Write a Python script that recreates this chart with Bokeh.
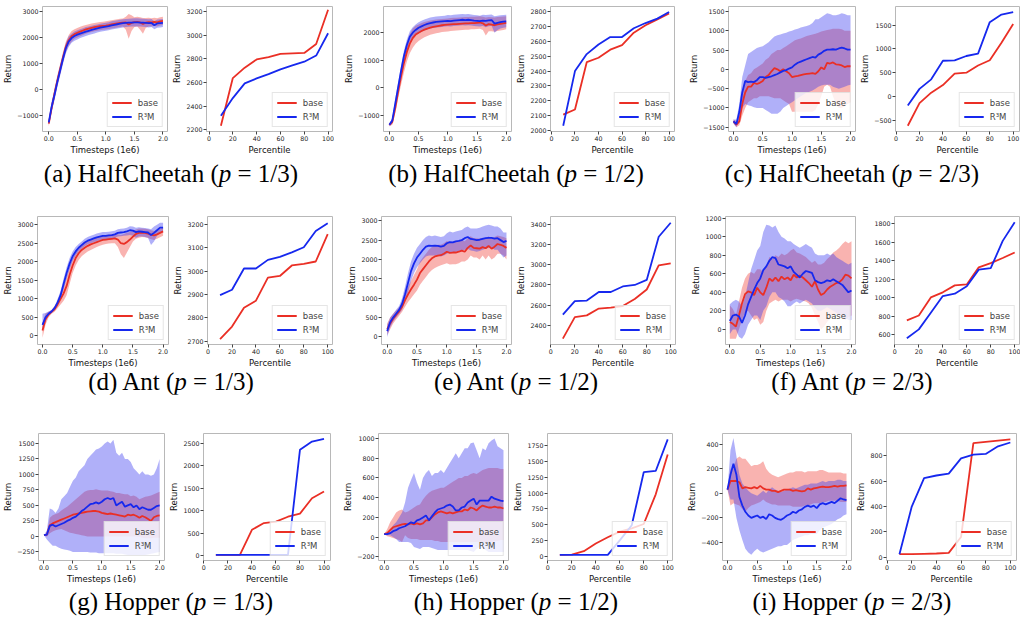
from bokeh.plotting import figure
from bokeh.layouts import row, column
from bokeh.models import Range1d, FixedTicker, CustomJSTickFormatter, Div, Legend
from bokeh.embed import file_html
from bokeh.resources import INLINE

# ---------------- data ----------------
TS = [0.0, 0.05, 0.1, 0.15, 0.2, 0.25, 0.3, 0.35, 0.4, 0.45, 0.5, 0.55, 0.6, 0.65, 0.7, 0.75, 0.8, 0.85, 0.9, 0.95,
      1.0, 1.05, 1.1, 1.15, 1.2, 1.25, 1.3, 1.35, 1.4, 1.45, 1.5, 1.55, 1.6, 1.65, 1.7, 1.75, 1.8, 1.85, 1.9, 1.95, 2.0]
PCT = [10, 20, 30, 40, 50, 60, 70, 80, 90, 100]

# (a) HalfCheetah p=1/3
A_BASE = [-1300, -700, -150, 350, 800, 1250, 1650, 1900, 2050, 2130, 2180, 2230, 2270, 2310, 2340, 2370, 2400, 2420, 2440, 2450, 2460, 2480, 2500, 2520, 2540, 2560, 2570, 2580, 2500, 2560, 2590, 2600, 2580, 2520, 2570, 2590, 2580, 2600, 2580, 2620, 2640]
A_BASE_LO = [-1400, -850, -350, 150, 600, 1050, 1450, 1700, 1850, 1950, 2000, 2050, 2100, 2150, 2180, 2210, 2240, 2260, 2280, 2300, 2310, 2330, 2350, 2370, 2390, 2400, 2420, 2300, 1950, 2250, 2400, 2420, 2300, 2150, 2380, 2420, 2420, 2440, 2420, 2460, 2480]
A_BASE_HI = [-1200, -550, 50, 550, 1000, 1450, 1850, 2100, 2250, 2320, 2370, 2410, 2450, 2480, 2510, 2540, 2560, 2580, 2600, 2610, 2620, 2640, 2660, 2680, 2700, 2720, 2730, 2800, 2900, 2850, 2780, 2800, 2780, 2750, 2750, 2760, 2740, 2760, 2740, 2780, 2800]
A_R3M = [-1250, -650, -200, 300, 750, 1200, 1600, 1850, 1980, 2060, 2110, 2150, 2190, 2230, 2260, 2290, 2320, 2350, 2380, 2400, 2420, 2440, 2470, 2490, 2510, 2530, 2550, 2560, 2570, 2575, 2580, 2580, 2575, 2570, 2560, 2550, 2560, 2470, 2540, 2550, 2560]
A_R3M_LO = [-1350, -850, -400, 100, 550, 1000, 1400, 1650, 1800, 1880, 1930, 1980, 2020, 2060, 2100, 2130, 2160, 2190, 2220, 2240, 2260, 2280, 2310, 2330, 2350, 2370, 2390, 2400, 2410, 2420, 2420, 2420, 2420, 2410, 2400, 2390, 2400, 2320, 2380, 2390, 2400]
A_R3M_HI = [-1150, -450, 0, 500, 950, 1400, 1800, 2050, 2150, 2230, 2280, 2320, 2360, 2400, 2420, 2450, 2480, 2500, 2530, 2550, 2570, 2590, 2620, 2640, 2660, 2680, 2700, 2710, 2720, 2730, 2740, 2740, 2730, 2720, 2710, 2700, 2710, 2620, 2690, 2700, 2710]
A_PCT_BASE = [2235, 2637, 2725, 2794, 2813, 2841, 2845, 2849, 2924, 3214]
A_PCT_R3M = [2319, 2468, 2592, 2634, 2670, 2711, 2744, 2775, 2827, 3015]

# (b) HalfCheetah p=1/2
B_BASE = [-1350, -1250, -750, -150, 400, 900, 1300, 1600, 1800, 1930, 2000, 2060, 2110, 2150, 2180, 2210, 2230, 2250, 2270, 2280, 2290, 2300, 2310, 2310, 2320, 2330, 2340, 2340, 2350, 2350, 2360, 2370, 2340, 2260, 2310, 2290, 2270, 2300, 2320, 2340, 2360]
B_BASE_LO = [-1400, -1350, -950, -400, 100, 550, 950, 1250, 1450, 1600, 1700, 1770, 1830, 1880, 1920, 1950, 1980, 2000, 2020, 2030, 2040, 2060, 2070, 2080, 2090, 2100, 2110, 2110, 2120, 2120, 2130, 2140, 2100, 1900, 2050, 2050, 2030, 2060, 2080, 2100, 2120]
B_BASE_HI = [-1300, -1150, -550, 100, 700, 1250, 1650, 1950, 2150, 2250, 2300, 2350, 2390, 2420, 2440, 2460, 2480, 2490, 2500, 2510, 2520, 2530, 2540, 2540, 2550, 2560, 2570, 2570, 2580, 2580, 2590, 2600, 2580, 2550, 2570, 2560, 2550, 2570, 2580, 2590, 2600]
B_R3M = [-1350, -1200, -600, 0, 600, 1150, 1550, 1850, 2000, 2100, 2180, 2230, 2280, 2320, 2350, 2370, 2390, 2400, 2410, 2420, 2430, 2420, 2440, 2450, 2460, 2470, 2460, 2470, 2460, 2440, 2430, 2420, 2440, 2430, 2450, 2460, 2330, 2360, 2380, 2400, 2410]
B_R3M_LO = [-1400, -1300, -800, -200, 400, 950, 1350, 1650, 1800, 1900, 1980, 2030, 2080, 2120, 2150, 2170, 2190, 2200, 2210, 2220, 2230, 2220, 2240, 2250, 2260, 2270, 2260, 2270, 2260, 2240, 2230, 2220, 2240, 2200, 2230, 2250, 2000, 2100, 2150, 2180, 2200]
B_R3M_HI = [-1300, -1100, -400, 200, 800, 1350, 1750, 2050, 2200, 2300, 2380, 2430, 2480, 2520, 2550, 2570, 2590, 2600, 2610, 2620, 2640, 2630, 2650, 2660, 2670, 2680, 2670, 2680, 2660, 2640, 2630, 2620, 2650, 2640, 2650, 2660, 2600, 2620, 2630, 2640, 2650]
B_PCT_BASE = [2105, 2140, 2460, 2490, 2545, 2575, 2660, 2710, 2750, 2790]
B_PCT_R3M = [2030, 2400, 2515, 2580, 2630, 2630, 2690, 2725, 2755, 2800]

# (c) HalfCheetah p=2/3
C_BASE = [-1350, -1430, -1350, -900, -600, -450, -450, -350, -380, -350, -300, -200, -150, -50, 30, 0, -50, 0, -50, -100, -200, -180, -170, -150, -130, -120, -110, -100, -120, -50, 50, 0, 170, 150, 180, 130, 120, 100, 60, 80, 80]
C_BASE_LO = [-1400, -1500, -1450, -1200, -1000, -850, -800, -750, -750, -700, -700, -700, -700, -720, -750, -750, -750, -800, -850, -900, -1100, -1100, -1100, -1100, -1100, -1100, -1100, -1100, -1050, -900, -700, -450, -400, -450, -700, -900, -1000, -1000, -950, -900, -850]
C_BASE_HI = [-1300, -1350, -1200, -650, -300, -150, -100, 0, 50, 100, 150, 250, 300, 400, 450, 500, 500, 550, 600, 650, 700, 750, 780, 800, 830, 860, 880, 900, 920, 950, 980, 1000, 1020, 1030, 1050, 1050, 1050, 1040, 1000, 1000, 1000]
C_R3M = [-1350, -1420, -1100, -600, -300, -330, -320, -330, -280, -200, -200, -220, -200, -180, -150, -120, -80, -40, -20, 20, 50, 120, 170, 200, 230, 260, 290, 320, 300, 380, 420, 480, 510, 510, 520, 510, 540, 560, 540, 510, 510]
C_R3M_LO = [-1400, -1500, -1300, -1000, -900, -930, -950, -980, -1000, -1000, -1000, -1050, -1100, -1150, -1150, -1150, -1100, -1000, -950, -900, -850, -800, -750, -700, -650, -600, -580, -550, -500, -450, -420, -400, -400, -400, -450, -480, -500, -480, -450, -420, -400]
C_R3M_HI = [-1300, -1300, -900, -200, 100, 400, 450, 500, 550, 580, 600, 650, 700, 780, 850, 880, 900, 930, 950, 980, 1000, 1030, 1050, 1080, 1100, 1120, 1150, 1200, 1300, 1300, 1350, 1400, 1450, 1430, 1400, 1400, 1420, 1450, 1430, 1400, 1400]
C_PCT_BASE = [-615, -140, 80, 240, 480, 500, 650, 760, 1130, 1520]
C_PCT_R3M = [-190, 160, 360, 750, 760, 850, 900, 1560, 1720, 1770]

# (d) Ant p=1/3
D_BASE = [150, 450, 580, 650, 720, 850, 1000, 1150, 1350, 1650, 1900, 2100, 2230, 2320, 2380, 2430, 2470, 2500, 2530, 2560, 2590, 2600, 2610, 2620, 2630, 2600, 2500, 2480, 2530, 2600, 2680, 2750, 2780, 2790, 2780, 2760, 2730, 2710, 2740, 2780, 2820]
D_BASE_LO = [-50, 300, 500, 600, 650, 750, 850, 950, 1100, 1400, 1700, 1900, 2050, 2150, 2220, 2280, 2320, 2360, 2400, 2430, 2460, 2480, 2490, 2500, 2500, 2400, 2200, 2100, 2250, 2400, 2550, 2620, 2650, 2670, 2660, 2640, 2610, 2590, 2620, 2660, 2700]
D_BASE_HI = [350, 600, 650, 700, 800, 950, 1150, 1350, 1600, 1900, 2100, 2280, 2400, 2480, 2530, 2570, 2610, 2640, 2660, 2690, 2710, 2720, 2730, 2740, 2750, 2740, 2720, 2750, 2780, 2800, 2830, 2870, 2900, 2900, 2890, 2880, 2850, 2830, 2860, 2890, 2920]
D_R3M = [300, 500, 600, 660, 750, 900, 1100, 1400, 1700, 1950, 2150, 2280, 2380, 2450, 2520, 2570, 2600, 2630, 2660, 2680, 2700, 2700, 2710, 2720, 2740, 2780, 2790, 2800, 2820, 2850, 2840, 2800, 2820, 2810, 2800, 2790, 2720, 2780, 2850, 2920, 2920]
D_R3M_LO = [150, 400, 550, 620, 700, 820, 1000, 1250, 1550, 1800, 2020, 2170, 2280, 2350, 2420, 2470, 2500, 2530, 2560, 2580, 2600, 2600, 2610, 2620, 2640, 2680, 2690, 2700, 2710, 2720, 2700, 2650, 2680, 2680, 2670, 2650, 2450, 2550, 2700, 2780, 2800]
D_R3M_HI = [600, 620, 660, 700, 800, 1000, 1220, 1550, 1850, 2100, 2280, 2400, 2480, 2550, 2620, 2670, 2700, 2730, 2760, 2780, 2800, 2800, 2810, 2820, 2840, 2880, 2890, 2900, 2920, 2960, 2950, 2920, 2930, 2920, 2910, 2900, 2880, 2950, 3000, 3050, 3050]
D_PCT_BASE = [2708, 2762, 2843, 2873, 2972, 2979, 3024, 3031, 3041, 3158]
D_PCT_R3M = [2897, 2920, 3011, 3011, 3048, 3061, 3080, 3102, 3172, 3205]

# (e) Ant p=1/2
E_BASE = [200, 350, 470, 570, 660, 780, 950, 1100, 1230, 1350, 1480, 1650, 1750, 1850, 1950, 2030, 2080, 2100, 2110, 2150, 2200, 2170, 2180, 2180, 2200, 2230, 2200, 2300, 2360, 2300, 2290, 2280, 2320, 2290, 2350, 2280, 2330, 2400, 2380, 2350, 2300]
E_BASE_LO = [50, 200, 350, 450, 550, 650, 780, 900, 1000, 1100, 1200, 1350, 1450, 1550, 1650, 1730, 1780, 1820, 1850, 1880, 1900, 1870, 1880, 1880, 1900, 1950, 1950, 2000, 2100, 2050, 2050, 2000, 2100, 2000, 2100, 2000, 2050, 2150, 2150, 2100, 2000]
E_BASE_HI = [350, 500, 600, 680, 760, 900, 1100, 1300, 1450, 1600, 1750, 1950, 2050, 2150, 2250, 2320, 2370, 2380, 2380, 2420, 2480, 2450, 2450, 2460, 2480, 2500, 2470, 2550, 2600, 2550, 2550, 2540, 2560, 2550, 2600, 2550, 2580, 2620, 2600, 2580, 2550]
E_R3M = [150, 380, 500, 600, 700, 850, 1100, 1400, 1700, 1900, 2050, 2150, 2250, 2330, 2360, 2350, 2360, 2350, 2330, 2350, 2420, 2450, 2440, 2470, 2480, 2500, 2550, 2580, 2530, 2520, 2500, 2510, 2530, 2550, 2560, 2560, 2540, 2550, 2500, 2450, 2480]
E_R3M_LO = [0, 250, 400, 500, 600, 700, 900, 1150, 1450, 1650, 1800, 1900, 2000, 2080, 2100, 2100, 2100, 2100, 2080, 2100, 2150, 2180, 2170, 2200, 2200, 2220, 2250, 2280, 2230, 2220, 2200, 2220, 2250, 2280, 2300, 2300, 2250, 2250, 2150, 2050, 2100]
E_R3M_HI = [300, 500, 600, 700, 800, 1000, 1300, 1650, 1950, 2150, 2300, 2400, 2500, 2580, 2620, 2600, 2620, 2600, 2580, 2600, 2680, 2720, 2700, 2720, 2740, 2760, 2820, 2850, 2800, 2800, 2800, 2820, 2850, 2880, 2900, 2880, 2850, 2850, 2800, 2700, 2700]
E_PCT_BASE = [2265, 2480, 2497, 2565, 2575, 2590, 2660, 2755, 2995, 3015]
E_PCT_R3M = [2505, 2640, 2645, 2730, 2730, 2785, 2800, 2850, 3280, 3420]

# (f) Ant p=2/3
F_BASE = [80, 60, 30, 150, 280, 380, 410, 400, 370, 450, 400, 370, 450, 550, 520, 560, 520, 570, 540, 560, 530, 590, 560, 580, 560, 530, 500, 460, 520, 430, 370, 390, 430, 460, 480, 500, 510, 540, 590, 580, 550]
F_BASE_LO = [-100, -100, -100, 0, 100, 180, 200, 150, 100, 120, 50, 80, 200, 280, 300, 320, 300, 320, 320, 320, 300, 320, 330, 320, 310, 300, 280, 230, 150, 80, 0, 30, 80, 120, 150, 170, 150, 130, 100, 130, 150]
F_BASE_HI = [260, 220, 150, 300, 450, 550, 600, 620, 600, 650, 650, 620, 680, 780, 760, 800, 780, 820, 800, 820, 850, 870, 830, 820, 800, 780, 750, 720, 740, 700, 700, 720, 760, 790, 830, 850, 880, 920, 950, 930, 950]
F_R3M = [90, 150, 160, 140, 70, 150, 270, 350, 430, 500, 550, 640, 680, 740, 780, 770, 700, 690, 680, 660, 680, 620, 590, 560, 600, 630, 620, 610, 530, 510, 500, 510, 530, 520, 540, 520, 500, 480, 440, 400, 420]
F_R3M_LO = [-50, 0, 0, -80, -100, -50, 50, 100, 150, 150, 100, 200, 250, 350, 400, 400, 350, 330, 300, 250, 250, 280, 300, 280, 300, 320, 300, 280, 230, 200, 200, 220, 240, 220, 200, 180, 150, 130, 120, 100, 100]
F_R3M_HI = [270, 300, 320, 300, 250, 350, 500, 650, 750, 850, 900, 1050, 1130, 1120, 1100, 1120, 1050, 1000, 980, 950, 950, 920, 900, 880, 900, 920, 900, 880, 820, 800, 800, 800, 820, 800, 820, 780, 760, 740, 720, 700, 720]
F_PCT_BASE = [757, 810, 1005, 1060, 1135, 1145, 1330, 1375, 1430, 1490]
F_PCT_R3M = [565, 660, 840, 1020, 1045, 1125, 1305, 1320, 1615, 1815]

# (g) Hopper p=1/3
G_BASE = [20, 30, 180, 210, 230, 250, 270, 290, 310, 330, 350, 360, 370, 380, 390, 400, 405, 410, 410, 400, 380, 370, 360, 370, 360, 350, 340, 330, 320, 350, 340, 350, 330, 300, 330, 310, 280, 250, 310, 330, 340]
G_BASE_LO = [20, 0, 50, 80, 100, 110, 120, 100, 80, 60, 50, 40, 30, 20, 10, 0, 0, 0, 0, 0, 0, 0, 0, 0, 0, 0, 0, 0, 0, 0, 0, 0, 0, -10, -20, -30, -30, -30, -20, -20, -20]
G_BASE_HI = [20, 60, 300, 340, 360, 380, 420, 450, 480, 520, 560, 600, 640, 680, 720, 740, 750, 750, 760, 750, 740, 740, 740, 730, 720, 700, 700, 690, 680, 680, 650, 660, 640, 600, 620, 640, 650, 660, 680, 700, 720]
G_R3M = [20, 30, 170, 190, 160, 180, 200, 220, 250, 270, 300, 320, 360, 410, 440, 480, 520, 530, 550, 530, 560, 600, 620, 600, 620, 500, 530, 560, 480, 500, 520, 470, 500, 440, 470, 450, 430, 430, 460, 490, 500]
G_R3M_LO = [20, -50, -100, -150, -150, -180, -200, -210, -220, -230, -250, -250, -250, -250, -250, -250, -260, -260, -260, -270, -270, -270, -270, -270, -270, -280, -280, -280, -290, -300, -300, -300, -300, -300, -300, -300, -290, -280, -270, -260, -250]
G_R3M_HI = [20, 100, 450, 430, 380, 450, 600, 650, 700, 800, 900, 950, 1050, 1100, 1150, 1250, 1300, 1350, 1400, 1420, 1450, 1500, 1530, 1500, 1560, 1350, 1300, 1350, 1250, 1250, 1200, 1100, 1050, 1000, 1050, 1000, 1000, 980, 1000, 1100, 1250]
G_PCT_BASE = [20, 20, 20, 580, 730, 760, 870, 940, 1280, 1430]
G_PCT_R3M = [20, 20, 20, 20, 20, 20, 20, 2360, 2540, 2600]

# (h) Hopper p=1/2
H_BASE = [30, 40, 70, 100, 110, 120, 130, 135, 130, 140, 130, 140, 130, 140, 170, 170, 200, 230, 250, 260, 250, 240, 250, 240, 250, 260, 260, 280, 270, 300, 290, 270, 300, 320, 310, 300, 300, 310, 300, 300, 290]
H_BASE_LO = [30, 10, 0, -10, -20, -30, -50, 20, -10, -20, -20, -20, -30, -30, -30, -30, -30, -40, -40, -50, -50, -50, -50, -50, -50, -50, -50, -50, -50, -50, -50, -50, -50, -50, -50, -50, -50, -40, -40, -30, -30]
H_BASE_HI = [30, 80, 150, 200, 250, 270, 280, 250, 260, 280, 300, 320, 330, 380, 420, 450, 470, 480, 490, 500, 500, 520, 540, 560, 580, 600, 600, 620, 620, 640, 650, 640, 660, 680, 690, 700, 700, 700, 700, 690, 690]
H_R3M = [30, 30, 40, 60, 70, 90, 100, 110, 130, 150, 140, 170, 180, 200, 220, 170, 210, 250, 280, 290, 300, 320, 330, 310, 270, 270, 300, 310, 350, 370, 390, 330, 370, 370, 370, 370, 410, 390, 380, 370, 365]
H_R3M_LO = [30, 20, 20, 0, -20, -50, -50, -50, -50, -60, -100, -110, -120, -100, -100, -100, -110, -120, -130, -130, -130, -130, -130, -130, -130, -130, -130, -130, -130, -140, -150, -120, -100, -110, -130, -150, -150, -150, -150, -150, -150]
H_R3M_HI = [30, 40, 60, 120, 150, 200, 250, 350, 500, 580, 650, 550, 480, 600, 650, 680, 620, 650, 650, 680, 650, 700, 750, 800, 850, 800, 850, 900, 900, 950, 960, 880, 800, 900, 880, 950, 980, 1000, 920, 900, 880]
H_PCT_BASE = [20, 25, 80, 200, 300, 390, 440, 510, 980, 1610]
H_PCT_R3M = [20, 20, 20, 20, 20, 250, 490, 1330, 1350, 1850]

# (i) Hopper p=2/3
I_BASE = [30, 100, 100, 100, 90, 40, 50, 45, 40, 50, 40, 60, 40, 30, 30, 20, 20, 10, 20, 30, 30, 30, 20, 25, 20, 15, 20, 40, 30, 40, 45, 50, 55, 50, 50, 55, 60, 55, 60, 60, 65]
I_BASE_LO = [30, -100, -80, -90, -100, -130, -150, -120, -100, -90, -80, -70, -50, -70, -80, -90, -90, -100, -100, -100, -100, -100, -110, -110, -110, -110, -100, -100, -90, -80, -80, -80, -70, -70, -60, -60, -60, -60, -70, -70, -70]
I_BASE_HI = [30, 200, 210, 280, 300, 280, 280, 250, 220, 230, 230, 240, 260, 200, 170, 150, 140, 130, 140, 150, 160, 170, 170, 180, 180, 180, 170, 180, 180, 180, 180, 190, 190, 180, 170, 170, 170, 170, 170, 160, 160]
I_R3M = [30, 150, 240, 150, -30, -100, -150, -180, -200, -190, -180, -200, -190, -210, -170, -180, -200, -210, -215, -200, -180, -170, -150, -160, -140, -130, -110, -100, -110, -100, -120, -90, -80, -90, -80, -70, -80, -60, -40, -50, -55]
I_R3M_LO = [30, -50, -50, -200, -300, -380, -450, -480, -500, -470, -450, -470, -480, -470, -460, -450, -440, -430, -430, -420, -420, -400, -380, -370, -360, -350, -340, -340, -330, -330, -330, -300, -280, -270, -260, -250, -230, -210, -200, -180, -170]
I_R3M_HI = [30, 350, 450, 300, 150, 80, 50, 20, 0, -10, -20, 0, 20, 0, 30, 50, 30, 20, 10, 20, 30, 40, 50, 40, 50, 60, 70, 70, 80, 80, 80, 90, 100, 90, 100, 100, 100, 110, 110, 100, 100]
I_PCT_BASE = [25, 25, 28, 30, 35, 160, 900, 910, 920, 930]
I_PCT_R3M = [25, 400, 625, 645, 660, 780, 810, 815, 875, 905]

CAPTIONS = [
    ["(a) HalfCheetah (<i>p</i> = 1/3)", "(b) HalfCheetah (<i>p</i> = 1/2)", "(c) HalfCheetah (<i>p</i> = 2/3)"],
    ["(d) Ant (<i>p</i> = 1/3)", "(e) Ant (<i>p</i> = 1/2)", "(f) Ant (<i>p</i> = 2/3)"],
    ["(g) Hopper (<i>p</i> = 1/3)", "(h) Hopper (<i>p</i> = 1/2)", "(i) Hopper (<i>p</i> = 2/3)"],
]

# ---------------- styling ----------------
RED = "#ea2f25"
BLUE = "#1628ee"
RED_BAND = "#f0403a"
BLUE_BAND = "#3a3af0"
FONT = "DejaVu Sans"
T_FMT_Y = "return (tick < 0 ? '\u2212' : '') + Math.abs(tick).toString();"
T_FMT_X = "return tick.toFixed(1);"


def base_fig(xr, yr, yticks, xticks, xlabel, xfmt, geom):
    mbl, fw, mbt, fh, mbr, mbb = geom
    p = figure(width=mbl + fw + mbr, height=mbt + fh + mbb,
               min_border_left=mbl, min_border_right=mbr,
               min_border_top=mbt, min_border_bottom=mbb,
               x_range=Range1d(*xr), y_range=Range1d(*yr),
               toolbar_location=None, output_backend="svg")
    p.grid.visible = False
    p.outline_line_color = "#b8b8b8"
    p.outline_line_width = 1
    p.background_fill_color = "white"
    p.border_fill_color = "white"
    for ax in (p.xaxis[0], p.yaxis[0]):
        ax.axis_line_color = None
        ax.major_tick_in = 0
        ax.major_tick_out = 3
        ax.major_tick_line_color = "#444444"
        ax.minor_tick_line_color = None
        ax.major_label_text_font = FONT
        ax.major_label_text_font_size = "6.3px"
        ax.major_label_text_color = "#222222"
        ax.major_label_standoff = 1
        ax.axis_label_text_font = FONT
        ax.axis_label_text_font_size = "8.5px"
        ax.axis_label_text_font_style = "normal"
        ax.axis_label_text_color = "#111111"
        ax.axis_label_standoff = 1
    p.xaxis[0].ticker = FixedTicker(ticks=xticks)
    p.yaxis[0].ticker = FixedTicker(ticks=yticks)
    p.xaxis[0].formatter = CustomJSTickFormatter(code=xfmt)
    p.yaxis[0].formatter = CustomJSTickFormatter(code=T_FMT_Y)
    p.xaxis[0].axis_label = xlabel
    p.yaxis[0].axis_label = "Return"
    return p


def add_legend(p, r_base, r_r3m):
    leg = Legend(items=[("base", [r_base]), ("R\u00b3M", [r_r3m])], location="bottom_right")
    leg.label_text_font = FONT
    leg.label_text_font_size = "8.5px"
    leg.label_height = 11
    leg.glyph_height = 11
    leg.glyph_width = 20
    leg.label_standoff = 6
    leg.spacing = 3
    leg.padding = 4
    leg.margin = 4
    leg.border_line_color = "#cccccc"
    leg.background_fill_alpha = 0.8
    p.add_layout(leg, "center")


def curve_fig(base, base_lo, base_hi, r3m, r3m_lo, r3m_hi, xr, yr, yticks, geom):
    p = base_fig(xr, yr, yticks, [0, 0.5, 1.0, 1.5, 2.0], "Timesteps (1e6)", T_FMT_X, geom)
    p.varea(x=TS, y1=base_lo, y2=base_hi, fill_color=RED_BAND, fill_alpha=0.4)
    p.varea(x=TS, y1=r3m_lo, y2=r3m_hi, fill_color=BLUE_BAND, fill_alpha=0.4)
    rb = p.line(TS, base, line_color=RED, line_width=1.8)
    rr = p.line(TS, r3m, line_color=BLUE, line_width=1.8)
    add_legend(p, rb, rr)
    return p


def pct_fig(base, r3m, xr, yr, yticks, geom):
    p = base_fig(xr, yr, yticks, [0, 20, 40, 60, 80, 100], "Percentile",
                 "return tick.toFixed(0);", geom)
    rb = p.line(PCT, base, line_color=RED, line_width=1.8)
    rr = p.line(PCT, r3m, line_color=BLUE, line_width=1.8)
    add_legend(p, rb, rr)
    return p


# geometry: (min_border_left, frame_width, min_border_top, frame_height, min_border_right, min_border_bottom)
R1 = [(39, 128, 6, 127, 2, 24), (30, 133, 6, 127, 2, 24), (49, 128, 6, 127, 2, 24),
      (32, 129, 6, 127, 2, 24), (52, 127, 6, 127, 2, 24), (32, 130, 6, 127, 1, 24)]
R2 = [(37, 131, 25, 130, 2, 24), (32, 130, 25, 130, 2, 24), (47, 130, 25, 130, 2, 24),
      (33, 129, 25, 130, 2, 24), (48, 130, 25, 130, 2, 24), (32, 130, 25, 130, 1, 24)]
R3 = [(34, 130, 39, 129, 2, 24), (33, 131, 39, 129, 2, 24), (46, 130, 39, 129, 2, 24),
      (33, 129, 39, 129, 2, 24), (48, 129, 39, 129, 2, 24), (29, 134, 35, 133, 2, 24)]

row1 = [
    curve_fig(A_BASE, A_BASE_LO, A_BASE_HI, A_R3M, A_R3M_LO, A_R3M_HI, (-0.11, 2.08), (-1600, 3190), [-1000, 0, 1000, 2000, 3000], R1[0]),
    pct_fig(A_PCT_BASE, A_PCT_R3M, (-2.1, 103.7), (2186, 3241), [2200, 2400, 2600, 2800, 3000, 3200], R1[1]),
    curve_fig(B_BASE, B_BASE_LO, B_BASE_HI, B_R3M, B_R3M_LO, B_R3M_HI, (-0.1, 2.09), (-1595, 2952), [-1000, 0, 1000, 2000], R1[2]),
    pct_fig(B_PCT_BASE, B_PCT_R3M, (-0.8, 104.6), (1991, 2837), [2000, 2100, 2200, 2300, 2400, 2500, 2600, 2700, 2800], R1[3]),
    curve_fig(C_BASE, C_BASE_LO, C_BASE_HI, C_R3M, C_R3M_LO, C_R3M_HI, (-0.085, 2.085), (-1610, 1627), [-1500, -1000, -500, 0, 500, 1000, 1500], R1[4]),
    pct_fig(C_PCT_BASE, C_PCT_R3M, (-0.5, 105.4), (-735, 1889), [-500, 0, 500, 1000, 1500], R1[5]),
]
row2 = [
    curve_fig(D_BASE, D_BASE_LO, D_BASE_HI, D_R3M, D_R3M_LO, D_R3M_HI, (-0.083, 2.09), (-230, 3221), [0, 500, 1000, 1500, 2000, 2500, 3000], R2[0]),
    pct_fig(D_PCT_BASE, D_PCT_R3M, (-0.5, 104), (2685, 3234), [2700, 2800, 2900, 3000, 3100, 3200], R2[1]),
    curve_fig(E_BASE, E_BASE_LO, E_BASE_HI, E_R3M, E_R3M_LO, E_R3M_HI, (-0.095, 2.084), (-195, 3110), [0, 500, 1000, 1500, 2000, 2500, 3000], R2[2]),
    pct_fig(E_PCT_BASE, E_PCT_R3M, (-0.3, 104), (2207, 3482), [2400, 2600, 2800, 3000, 3200, 3400], R2[3]),
    curve_fig(F_BASE, F_BASE_LO, F_BASE_HI, F_R3M, F_R3M_LO, F_R3M_HI, (-0.071, 2.066), (-163, 1218), [0, 200, 400, 600, 800, 1000, 1200], R2[4]),
    pct_fig(F_PCT_BASE, F_PCT_R3M, (-0.3, 104), (497, 1878), [600, 800, 1000, 1200, 1400, 1600, 1800], R2[5]),
]
row3 = [
    curve_fig(G_BASE, G_BASE_LO, G_BASE_HI, G_R3M, G_R3M_LO, G_R3M_HI, (-0.095, 2.084), (-388, 1660), [-250, 0, 250, 500, 750, 1000, 1250, 1500], R3[0]),
    pct_fig(G_PCT_BASE, G_PCT_R3M, (-0.3, 105.4), (-103, 2720), [0, 500, 1000, 1500, 2000, 2500], R3[1]),
    curve_fig(H_BASE, H_BASE_LO, H_BASE_HI, H_R3M, H_R3M_LO, H_R3M_HI, (-0.095, 2.084), (-237, 1050), [-200, 0, 200, 400, 600, 800, 1000], R3[2]),
    pct_fig(H_PCT_BASE, H_PCT_R3M, (-0.3, 104), (-68, 1943), [0, 250, 500, 750, 1000, 1250, 1500, 1750], R3[3]),
    curve_fig(I_BASE, I_BASE_LO, I_BASE_HI, I_R3M, I_R3M_LO, I_R3M_HI, (-0.084, 2.084), (-546, 486), [-400, -200, 0, 200, 400], R3[4]),
    pct_fig(I_PCT_BASE, I_PCT_R3M, (-0.5, 105), (-25, 976), [0, 200, 400, 600, 800], R3[5]),
]

CAP_W = [342, 348, 324]


def caption_row(texts, h):
    divs = []
    for t, w in zip(texts, CAP_W):
        divs.append(Div(text=t, width=w, height=h,
                        styles={"font-family": "'Liberation Serif', 'DejaVu Serif', serif",
                                "font-size": "25px", "line-height": f"{h}px",
                                "text-align": "center", "color": "black",
                                "white-space": "nowrap", "width": f"{w}px",
                                "height": f"{h}px", "overflow": "visible",
                                "margin": "0px", "padding": "0px"}))
    return row(*divs, spacing=0)


layout = column(
    row(*row1, spacing=0),
    caption_row(CAPTIONS[0], 34),
    row(*row2, spacing=0),
    caption_row(CAPTIONS[1], 24),
    row(*row3, spacing=0),
    caption_row(CAPTIONS[2], 32),
    spacing=0,
)

open("out.html", "w").write(file_html(layout, INLINE))
